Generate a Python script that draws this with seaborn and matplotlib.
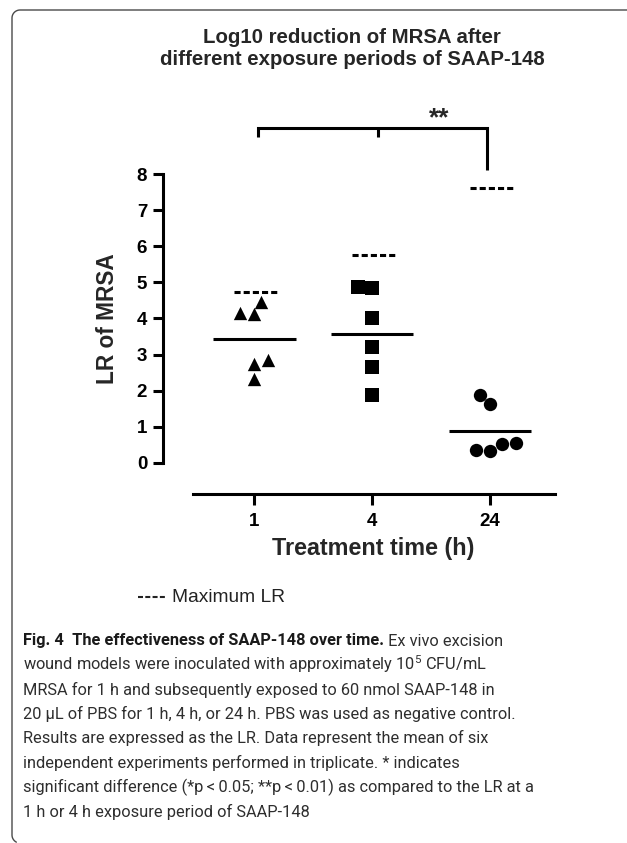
import numpy as np
import pandas as pd
import matplotlib
matplotlib.use("Agg")
import matplotlib.pyplot as plt
from matplotlib.lines import Line2D
import seaborn as sns

# ---------------- data ----------------
times = ["1", "4", "24"]
lr_1h = [4.45, 4.12, 4.15, 2.85, 2.75, 2.32]
lr_4h = [4.84, 4.88, 4.00, 3.22, 2.66, 1.88]
lr_24h = [1.88, 1.63, 0.54, 0.31, 0.52, 0.35]
max_lr = [4.74, 5.76, 7.63]
y_ticks = [0, 1, 2, 3, 4, 5, 6, 7, 8]

title = "Log10 reduction of MRSA after\ndifferent exposure periods of SAAP-148"
x_label = "Treatment time (h)"
y_label = "LR of MRSA"
legend_label = "Maximum LR"
sig_label = "**"

cap_bold = "Fig. 4  The effectiveness of SAAP-148 over time."
cap_rest = " Ex vivo excision"
cap_lines = [
    "wound models were inoculated with approximately $\\mathrm{10}^{\\mathrm{5}}$ CFU/mL",
    "MRSA for 1 h and subsequently exposed to 60 nmol SAAP-148 in",
    "20 \u00b5L of PBS for 1 h, 4 h, or 24 h. PBS was used as negative control.",
    "Results are expressed as the LR. Data represent the mean of six",
    "independent experiments performed in triplicate. * indicates",
    "significant difference (*p\u2009<\u20090.05; **p\u2009<\u20090.01) as compared to the LR at a",
    "1 h or 4 h exposure period of SAAP-148",
]
# right end of the "20 µL ... control." caption line in the reference (px),
# used only to fit the caption font size
cap_ref_line = 3
cap_ref_right = 515

# ---------------- style ----------------
sns.set_theme(style="white")
plt.rcParams["font.family"] = ["Liberation Sans", "DejaVu Sans"]
plt.rcParams["mathtext.fontset"] = "custom"
plt.rcParams["mathtext.rm"] = "Roboto"
plt.rcParams["mathtext.it"] = "Roboto:italic"
plt.rcParams["mathtext.bf"] = "Roboto:bold"
cap_font = ["Roboto", "DejaVu Sans"]

W, H = 627, 843
fig = plt.figure(figsize=(W / 100, H / 100), dpi=100)
fig.patch.set_facecolor("white")


def fx(px):
    return px / W


def fy(py):
    return 1 - py / H


ax = fig.add_axes([fx(162.7), fy(494), fx(555) - fx(162.7), fy(172.5) - fy(494)])
ax.set_facecolor("white")

groups = [lr_1h, lr_4h, lr_24h]
markers = ["^", "s", "o"]
lw = 2.2
for i, (t, vals, m) in enumerate(zip(times, groups, markers)):
    df = pd.DataFrame({"time": [t] * len(vals), "lr": vals})
    sns.swarmplot(data=df, x="time", y="lr", order=times, marker=m,
                  color="black", size=9.6, linewidth=0, ax=ax)

for i, vals in enumerate(groups):
    ax.plot([i - 0.35, i + 0.35], [np.mean(vals)] * 2, color="black", lw=lw,
            solid_capstyle="butt", zorder=3)
    ax.plot([i - 0.17, i + 0.2], [max_lr[i]] * 2, color="black", lw=lw,
            ls=(0, (2, 1)), dash_capstyle="butt", zorder=3)

ax.set_xlim(-0.776, 2.55)
ax.set_ylim(-0.87, 8.05)
ax.set_yticks(y_ticks)
ax.set_yticklabels([str(v) for v in y_ticks], fontweight="bold", fontsize=13.5)
ax.set_xticks(range(len(times)))
ax.set_xticklabels(times, fontweight="bold", fontsize=13.5)
ax.set_xlabel("")
ax.set_ylabel("")
for s in ["top", "right"]:
    ax.spines[s].set_visible(False)
for s in ["left", "bottom"]:
    ax.spines[s].set_linewidth(lw)
    ax.spines[s].set_color("black")
ax.spines["left"].set_bounds(0, 8)
ax.spines["bottom"].set_bounds(-0.52, 2.55)
ax.tick_params(axis="y", direction="out", length=7.2, width=lw, pad=4,
               colors="black", left=True)
ax.tick_params(axis="x", direction="out", length=8, width=lw, pad=6,
               colors="black", bottom=True)
ax.grid(False)

# significance bracket
ax.plot([0.03, 0.03, 1.97, 1.97], [9.04, 9.29, 9.29, 8.11], color="black",
        lw=lw, clip_on=False, solid_joinstyle="miter", solid_capstyle="butt")
ax.plot([1.05, 1.05], [9.29, 9.04], color="black", lw=lw, clip_on=False,
        solid_capstyle="butt")
ax.text(1.57, 9.36, sig_label, ha="center", va="baseline", fontsize=19,
        fontweight="bold", clip_on=False)

# texts
fig.text(fx(352), fy(48.5), title, ha="center", va="center", fontsize=14.7,
         fontweight="bold", linespacing=1.15)
fig.text(fx(107), fy(319), y_label, rotation=90, ha="center", va="center",
         fontsize=16.3, fontweight="bold")
fig.text(fx(373), fy(548), x_label, ha="center", va="center",
         fontsize=16.8, fontweight="bold")

# legend
fig.add_artist(Line2D([fx(138), fx(167)], [fy(597), fy(597)], color="#222222",
                      lw=1.5, ls=(0, (2.4, 1.1)), dash_capstyle="butt"))
fig.text(fx(172), fy(597), legend_label, ha="left", va="center", fontsize=13.8,
         color="#222222")

# caption: fit the font size to one reference line width
renderer = fig.canvas.get_renderer()
x0 = 23
tmp = fig.text(0, 0, cap_lines[cap_ref_line - 1], fontsize=10, family=cap_font)
w10 = tmp.get_window_extent(renderer=renderer).width
tmp.remove()
cap_size = 10 * (cap_ref_right - x0) / w10

base0 = 645.5
step = 24.5
cap_col = "#2e2e2e"
b = fig.text(fx(x0), fy(base0), cap_bold, fontsize=cap_size, family=cap_font,
             fontweight="bold", color="#1a1a1a", va="baseline", ha="left")
bx = b.get_window_extent(renderer=renderer).x1
fig.text(bx / W, fy(base0), cap_rest, fontsize=cap_size, family=cap_font,
         color=cap_col, va="baseline", ha="left")
for k, line in enumerate(cap_lines, start=1):
    fig.text(fx(x0), fy(base0 + step * k), line, fontsize=cap_size,
             family=cap_font, color=cap_col, va="baseline", ha="left")

# frame
r = 8
th1 = np.linspace(np.pi / 2, np.pi, 12)
th2 = np.linspace(np.pi, 1.35 * np.pi, 10)
xs = np.concatenate([[W + 5], 20 + r * np.cos(th1), [12], 20 + r * np.cos(th2)])
ys = np.concatenate([[10], 18 - r * np.sin(th1), [835], 835 - r * np.sin(th2)])
fig.add_artist(Line2D(fx(xs), fy(ys), color="#4a4a4a", lw=1.0))

fig.savefig("out.png", dpi=100, facecolor="white")
